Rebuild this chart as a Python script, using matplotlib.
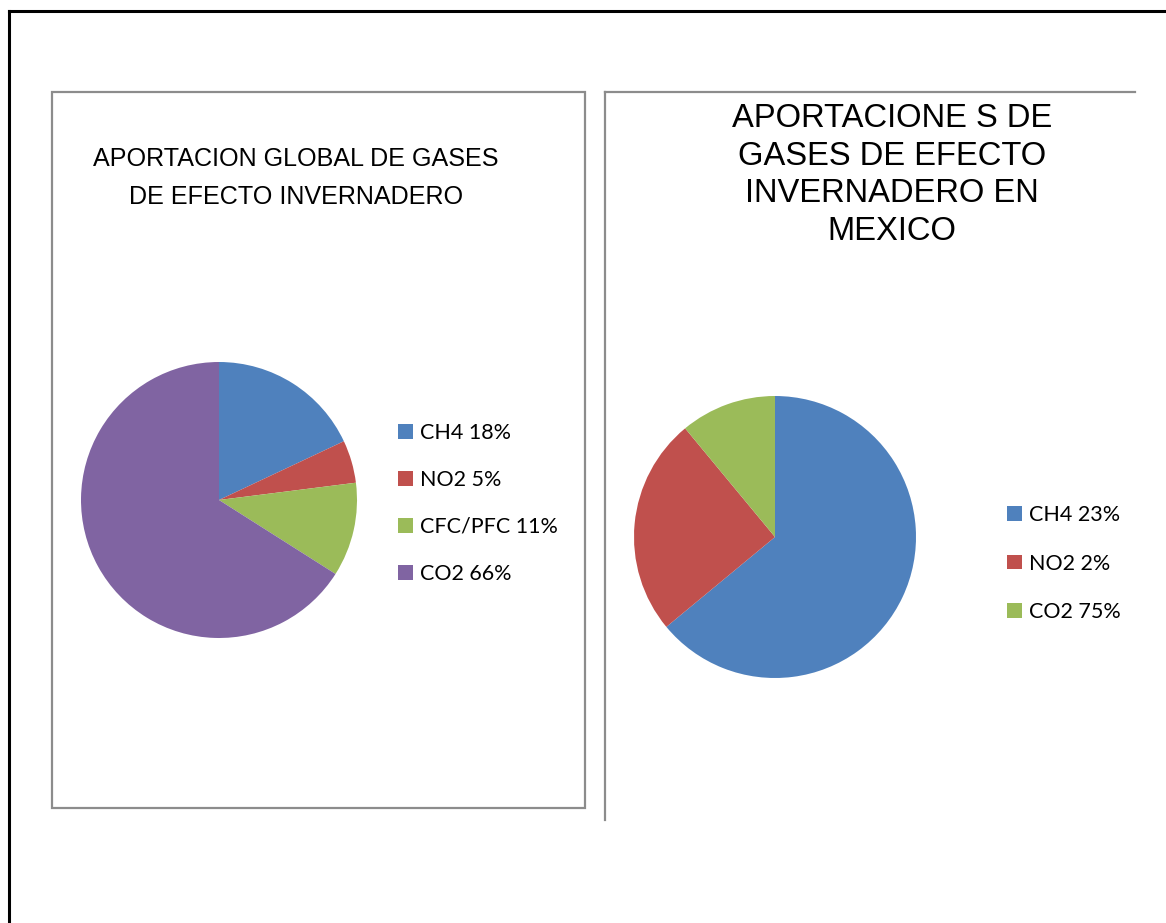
import matplotlib
matplotlib.use("Agg")
import matplotlib.pyplot as plt
from matplotlib.patches import Rectangle
from matplotlib.lines import Line2D

# data
global_labels = ["CH4 18%", "NO2 5%", "CFC/PFC 11%", "CO2 66%"]
global_values = [18, 5, 11, 66]
global_colors = ["#4F81BD", "#C0504D", "#9BBB59", "#8064A2"]

# the slices in the Mexico pie do not follow the legend text
mexico_labels = ["CH4 23%", "NO2 2%", "CO2 75%"]
mexico_values = [64, 25, 11]
mexico_colors = ["#4F81BD", "#C0504D", "#9BBB59"]

W, H = 1166, 923
fig = plt.figure(figsize=(W / 100, H / 100), dpi=100)


def fx(x):
    return x / W


def fy(y):
    return 1 - y / H


# outer black frame (cut at right and bottom)
fig.add_artist(Line2D([fx(9), fx(9)], [fy(11), 0], color="black", lw=2.2))
fig.add_artist(Line2D([fx(9), 1], [fy(11), fy(11)], color="black", lw=2.2))

# panel borders
grey = "#8c8c8c"
fig.add_artist(Rectangle((fx(52), fy(808)), fx(585) - fx(52), fy(92) - fy(808),
                         fill=False, edgecolor=grey, lw=1.6))
fig.add_artist(Line2D([fx(605), fx(605)], [fy(92), fy(820)], color=grey, lw=1.6))
fig.add_artist(Line2D([fx(605), fx(1135)], [fy(92), fy(92)], color=grey, lw=1.6))


def pie_axes(cx, cy, r):
    ax = fig.add_axes([fx(cx - r), fy(cy + r), 2 * r / W, 2 * r / H])
    return ax


# left pie
ax1 = pie_axes(219, 500, 138)
w1, _ = ax1.pie(global_values, colors=global_colors, startangle=90,
                counterclock=False, radius=1)
ax1.set_xlim(-1, 1)
ax1.set_ylim(-1, 1)
ax1.set_aspect("equal")
ax1.axis("off")

# right pie
ax2 = pie_axes(775, 537, 141)
w2, _ = ax2.pie(mexico_values, colors=mexico_colors, startangle=90,
                counterclock=False, radius=1)
ax2.set_xlim(-1, 1)
ax2.set_ylim(-1, 1)
ax2.set_aspect("equal")
ax2.axis("off")

# titles
fig.text(fx(296), fy(178), "APORTACION GLOBAL DE GASES\nDE EFECTO INVERNADERO",
         ha="center", va="center", fontsize=18.1, family="Liberation Sans",
         linespacing=1.7, color="black")
fig.text(fx(892), fy(175), "APORTACIONE S DE\nGASES DE EFECTO\nINVERNADERO EN\nMEXICO",
         ha="center", va="center", fontsize=23.6, family="Liberation Sans",
         linespacing=1.28, color="black")

# legends
leg_kw = dict(frameon=False, handlelength=0.68, handleheight=0.68,
              handletextpad=0.36, borderpad=0, borderaxespad=0,
              prop={"family": "Lato", "size": 15.5})
fig.legend(w1, global_labels, loc="upper left",
           bbox_to_anchor=(fx(398), fy(423)), labelspacing=1.25, **leg_kw)
fig.legend(w2, mexico_labels, loc="upper left",
           bbox_to_anchor=(fx(1007), fy(505)), labelspacing=1.33, **leg_kw)

fig.savefig("out.png", dpi=100, facecolor="white")
